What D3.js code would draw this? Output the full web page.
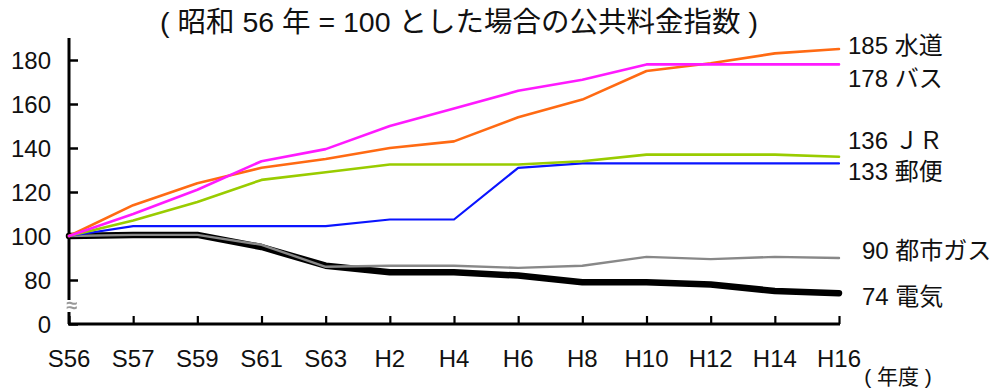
<!DOCTYPE html>
<html>
<head>
<meta charset="utf-8">
<script src="https://cdn.jsdelivr.net/npm/d3@7"></script>
<style>
  html, body { margin: 0; padding: 0; background: #fff; }
  svg { display: block; }
  text { font-family: "Liberation Sans", Arial, "Noto Sans CJK JP", sans-serif; fill: #111; }
</style>
</head>
<body>
<svg id="chart" width="1005" height="388"></svg>
<script>
// Fiscal years (Showa / Heisei)
const categories = ["S56", "S57", "S59", "S61", "S63", "H2", "H4", "H6", "H8", "H10", "H12", "H14", "H16"];

// Public utility price index, S56 = 100
const water    = [100, 114, 124, 131, 135, 140, 143, 154, 162, 175, 178.5, 183, 185];
const bus      = [100, 110, 121, 134, 139.5, 150, 158, 166, 171, 178, 178, 178, 178];
const jr       = [100, 107, 115.5, 125.5, 129, 132.5, 132.5, 132.5, 134, 137, 137, 137, 136];
const postal   = [100, 104.5, 104.5, 104.5, 104.5, 107.5, 107.5, 131, 133, 133, 133, 133, 133];
const cityGas  = [100, 100.5, 100.5, 96, 86, 86.5, 86.5, 85.5, 86.5, 90.5, 89.5, 90.5, 90];
const electric = [100, 100.5, 100.5, 95, 86.5, 83.5, 83.5, 82, 79, 79, 78, 75, 74];

const seriesNames  = ["水道", "バス", "ＪＲ", "郵便", "都市ガス", "電気"];
const seriesValues = [water, bus, jr, postal, cityGas, electric];
const endLabels    = ["185", "178", "136", "133", "90", "74"];

// Y axis is broken below 80; the bottom tick stands for 0
const yTickValues = [60, 80, 100, 120, 140, 160, 180];
const yTickLabels = ["0", "80", "100", "120", "140", "160", "180"];

const titleText = "( 昭和 56 年 = 100 とした場合の公共料金指数 )";
const xUnitText = "( 年度 )";

const svg = d3.select("#chart");

const x = d3.scalePoint().domain(categories).range([69, 839]);
const y = d3.scaleLinear().domain([60, 190]).range([324, 38]);

// Line styles per series
const styles = [
  { color: "#ff6a13", width: 2.6 },
  { color: "#ff1aff", width: 2.6 },
  { color: "#99cc00", width: 2.6 },
  { color: "#0a14ff", width: 2.2 },
  { color: "#888888", width: 2.4 },
  { color: "#000000", width: 6.5 }
];

// Title
svg.append("text")
  .attr("x", 459).attr("y", 22)
  .attr("text-anchor", "middle")
  .attr("dominant-baseline", "central")
  .style("font-size", "28.5px")
  .text(titleText);

// Y axis
const yAxis = d3.axisRight(y)
  .tickValues(yTickValues)
  .tickSize(9)
  .tickFormat("");
const gy = svg.append("g").attr("transform", "translate(69,0)").call(yAxis);
gy.select(".domain").remove();
gy.selectAll(".tick line").attr("stroke", "#000").attr("stroke-width", 2.5);
svg.append("line")
  .attr("x1", 69).attr("x2", 69)
  .attr("y1", y(190)).attr("y2", y(60))
  .attr("stroke", "#000").attr("stroke-width", 3);

svg.append("g").selectAll("text")
  .data(yTickValues)
  .join("text")
  .attr("x", 51)
  .attr("y", d => y(d))
  .attr("text-anchor", "end")
  .attr("dominant-baseline", "central")
  .style("font-size", "24px")
  .text((d, i) => yTickLabels[i]);

// X axis with inward ticks
const xAxis = d3.axisTop(x).tickSize(8).tickFormat("");
const gx = svg.append("g").attr("transform", `translate(0,${y(60)})`).call(xAxis);
gx.select(".domain").remove();
gx.selectAll(".tick line").attr("stroke", "#000").attr("stroke-width", 2.2);
svg.append("line")
  .attr("x1", 68).attr("x2", 840)
  .attr("y1", y(60)).attr("y2", y(60))
  .attr("stroke", "#000").attr("stroke-width", 3);

svg.append("g").selectAll("text")
  .data(categories)
  .join("text")
  .attr("x", d => x(d))
  .attr("y", 358)
  .attr("text-anchor", "middle")
  .attr("dominant-baseline", "central")
  .style("font-size", "24px")
  .text(d => d);

svg.append("text")
  .attr("x", 898).attr("y", 376)
  .attr("text-anchor", "middle")
  .attr("dominant-baseline", "central")
  .style("font-size", "21px")
  .text(xUnitText);

// Axis break mark
const defs = svg.append("defs");
defs.append("filter").attr("id", "soft")
  .append("feGaussianBlur").attr("stdDeviation", 0.7);
svg.append("rect")
  .attr("x", 63).attr("y", 300).attr("width", 14).attr("height", 12)
  .attr("fill", "#fff");
svg.append("text")
  .attr("x", 72).attr("y", 305)
  .attr("text-anchor", "middle")
  .attr("dominant-baseline", "central")
  .attr("filter", "url(#soft)")
  .style("font-size", "20px")
  .style("font-weight", "bold")
  .style("fill", "#999")
  .text("≈");

// Lines: electricity underneath so the gas line sits on top of it
const line = d3.line().x((d, i) => x(categories[i])).y(d => y(d));
const drawOrder = [5, 4, 3, 2, 0, 1];
svg.append("g").selectAll("path")
  .data(drawOrder)
  .join("path")
  .attr("d", k => line(seriesValues[k]))
  .attr("fill", "none")
  .attr("stroke", k => styles[k].color)
  .attr("stroke-width", k => styles[k].width)
  .attr("stroke-linejoin", "round")
  .attr("stroke-linecap", "round");

// End-of-line labels, nudged apart where lines sit close together
const labelDx = [848, 848, 848, 848, 862, 862];
const labelDy = [-4, 14, -16, 8, -8, 3];
svg.append("g").selectAll("text")
  .data(seriesNames)
  .join("text")
  .attr("x", (d, i) => labelDx[i])
  .attr("y", (d, i) => y(seriesValues[i][seriesValues[i].length - 1]) + labelDy[i])
  .attr("dominant-baseline", "central")
  .style("font-size", "24px")
  .text((d, i) => endLabels[i] + " " + d);
</script>
</body>
</html>
